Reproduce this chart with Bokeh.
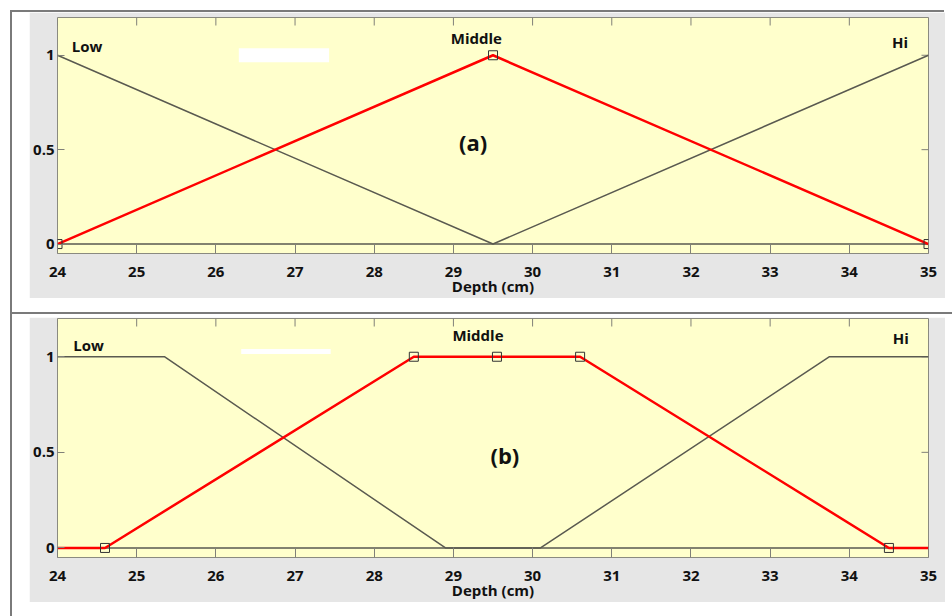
import math
from bokeh.plotting import figure
from bokeh.models import Label, FixedTicker, Div, BoxAnnotation, Range1d
from bokeh.layouts import row, column
from bokeh.embed import file_html
from bokeh.resources import INLINE

# ---------------- data ----------------
x_ticks = [24, 25, 26, 27, 28, 29, 30, 31, 32, 33, 34, 35]
y_ticks = [0, 0.5, 1]
y_tick_labels = {0: "0", 0.5: "0.5", 1: "1"}
mf_names = ["Low", "Middle", "Hi"]
x_label = "Depth (cm)"
X_MIN, X_MAX = 24, 35
Y_MIN, Y_MAX = -0.05, 1.2

# panel (a): triangular membership functions
a_low_x = [24, 29.5, 35]
a_low_y = [1, 0, 0]
a_mid_x = [24, 29.5, 35]
a_mid_y = [0, 1, 0]
a_hi_x = [24, 29.5, 35]
a_hi_y = [0, 0, 1]
a_mark_x = [24, 29.5, 35]
a_mark_y = [0, 1, 0]

# panel (b): trapezoidal membership functions
b_low_x = [24, 25.35, 28.9, 35]
b_low_y = [1, 1, 0, 0]
b_mid_x = [24, 24.6, 28.5, 30.6, 34.5, 35]
b_mid_y = [0, 0, 1, 1, 0, 0]
b_hi_x = [24, 30.1, 33.75, 35]
b_hi_y = [0, 0, 1, 1]
b_mark_x = [24.6, 28.5, 29.55, 30.6, 34.5]
b_mark_y = [0, 1, 1, 1, 0]

FONT = "Open Sans"
GRAY_LINE = "#5a5a50"
TICK = "#808078"
RED = "#ff0000"
YELLOW = "#ffffcc"
PANEL = "#e6e6e6"


def make_panel(h, mb, low, mid, hi, marks, tag, lbl_pos, bar):
    p = figure(width=916, height=h, x_range=Range1d(X_MIN, X_MAX), y_range=Range1d(Y_MIN, Y_MAX),
               output_backend="svg", toolbar_location=None,
               min_border_left=mb[0], min_border_right=mb[1],
               min_border_top=mb[2], min_border_bottom=mb[3],
               background_fill_color=YELLOW, border_fill_color=PANEL)
    p.outline_line_color = "#8a8a80"
    p.grid.visible = False

    # bottom axis
    xa = p.xaxis[0]
    xa.ticker = FixedTicker(ticks=x_ticks)
    xa.major_tick_in = 10
    xa.major_tick_out = 0
    xa.minor_tick_line_color = None
    xa.axis_line_color = None
    xa.major_tick_line_color = TICK
    xa.major_label_text_font = FONT
    xa.major_label_text_font_style = "bold"
    xa.major_label_text_font_size = "15px"
    xa.major_label_text_color = "#111111"
    xa.major_label_standoff = 13
    xa.axis_label = x_label
    xa.axis_label_text_font = FONT
    xa.axis_label_text_font_style = "bold"
    xa.axis_label_text_font_size = "15px"
    xa.axis_label_text_color = "#111111"
    xa.axis_label_standoff = -4

    # left axis
    ya = p.yaxis[0]
    ya.ticker = FixedTicker(ticks=y_ticks)
    ya.major_label_overrides = y_tick_labels
    ya.major_tick_in = 7
    ya.major_tick_out = 0
    ya.minor_tick_line_color = None
    ya.axis_line_color = None
    ya.major_tick_line_color = TICK
    ya.major_label_text_font = FONT
    ya.major_label_text_font_style = "bold"
    ya.major_label_text_font_size = "15px"
    ya.major_label_text_color = "#111111"
    ya.major_label_standoff = 3

    # inward tick marks on the top and right edges of the frame
    p.ray(x=x_ticks, y=[Y_MAX] * len(x_ticks), length=8, length_units="screen",
          angle=-math.pi / 2, line_color=TICK, line_width=1)
    p.ray(x=[X_MAX] * len(y_ticks), y=y_ticks, length=7, length_units="screen",
          angle=math.pi, line_color=TICK, line_width=1)

    p.add_layout(BoxAnnotation(left=bar[0], right=bar[1], bottom=bar[2], top=bar[3],
                               fill_color="white", fill_alpha=1, line_color=None))

    p.line(low[0], low[1], line_color=GRAY_LINE, line_width=1.5)
    p.line(hi[0], hi[1], line_color=GRAY_LINE, line_width=1.5)
    p.line(mid[0], mid[1], line_color=RED, line_width=2.5)
    p.scatter(marks[0], marks[1], marker="square", size=9, fill_color=None,
              line_color="#333333", line_width=1)

    for name, (lx, ly, al) in zip(mf_names, lbl_pos):
        p.add_layout(Label(x=lx, y=ly, text=name, text_align=al, text_baseline="alphabetic",
                           text_font=FONT, text_font_style="bold", text_font_size="15px",
                           text_color="#111111"))
    p.add_layout(Label(x=tag[1], y=tag[2], text=tag[0], text_align="center",
                       text_baseline="middle", text_font=FONT, text_font_style="bold",
                       text_font_size="22px", text_color="#111111"))
    return p


pa = make_panel(286, (28, 17, 5, 40),
                (a_low_x, a_low_y), (a_mid_x, a_mid_y), (a_hi_x, a_hi_y), (a_mark_x, a_mark_y),
                ("(a)", 29.25, 0.54),
                [(24.18, 1.047, "left"), (29.29, 1.092, "center"), (34.64, 1.07, "center")],
                (26.29, 27.43, 0.963, 1.037))
pb = make_panel(285, (22, 12, 1, 42),
                (b_low_x, b_low_y), (b_mid_x, b_mid_y), (b_hi_x, b_hi_y), (b_mark_x, b_mark_y),
                ("(b)", 29.65, 0.488),
                [(24.2, 1.064, "left"), (29.31, 1.112, "center"), (34.65, 1.098, "center")],
                (26.32, 27.45, 1.014, 1.04))
pa.margin = (0, 0, 0, 17)
pb.margin = (3, 0, 0, 17)

vline = Div(text="", width=2, height=606, margin=(10, 0, 0, 10),
            styles={"background-color": "#7a7a7a"})
top_line = Div(text="", width=932, height=2, margin=(10, 0, 0, 0),
               styles={"background-color": "#7a7a7a"})
mid_line = Div(text="", width=940, height=2, margin=(14, 0, 0, 0),
               styles={"background-color": "#7a7a7a"})

layout = row(vline, column(top_line, pa, mid_line, pb, spacing=0), spacing=0)

open("out.html", "w").write(file_html(layout, INLINE))
